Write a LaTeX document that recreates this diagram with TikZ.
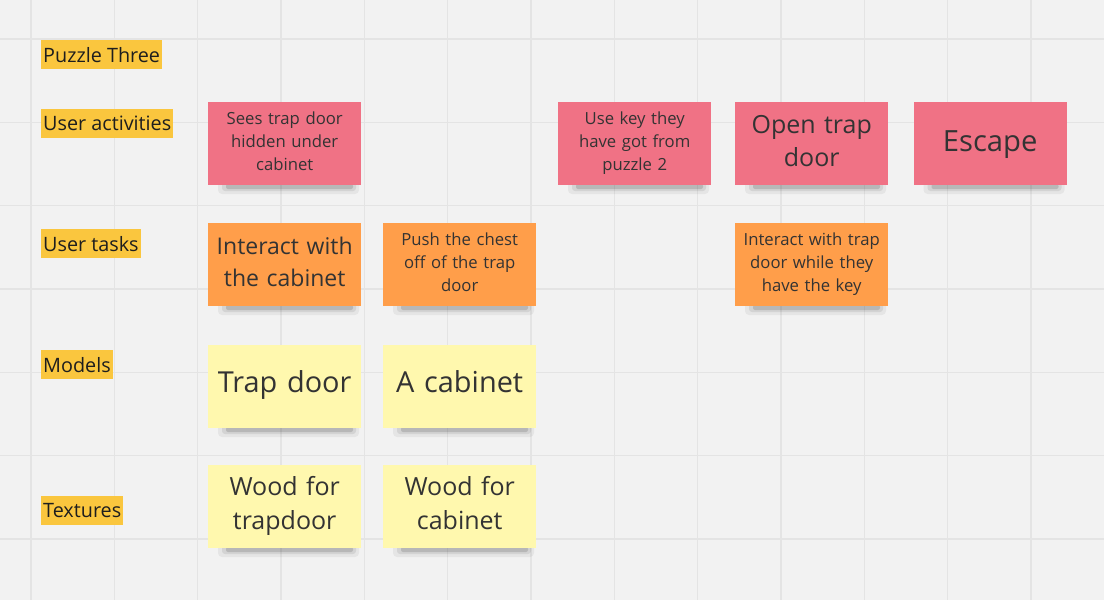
\documentclass[tikz,border=0pt]{standalone}
\usepackage{fontspec}
\setmainfont{Open Sans}
\definecolor{bg}{HTML}{F2F2F2}
\definecolor{gridc}{HTML}{E4E4E4}
\definecolor{lab}{HTML}{FAC63E}
\definecolor{pinkn}{HTML}{F07285}
\definecolor{orangen}{HTML}{FF9E4A}
\definecolor{yellown}{HTML}{FFF8AE}
\definecolor{ink}{HTML}{333333}
\definecolor{labink}{HTML}{1E1E1E}
\tikzset{
  gridline/.style={draw=gridc, line width=1.3pt},
  rowlabel/.style={fill=lab, anchor=north west, inner xsep=2pt, inner ysep=0pt,
    minimum height=29pt, text=labink, font=\fontsize{19.8}{23}\selectfont},
  sticky/.style={anchor=north west, minimum width=153pt, minimum height=83pt,
    inner sep=0pt},
  stickytext/.style={text width=148pt, align=center, inner sep=0pt, text=ink,
    execute at begin node=\strut, execute at end node=\strut},
  small/.style={font=\fontsize{16.7}{23.3}\selectfont},
  shade1/.style={fill=black, opacity=0.05, rounded corners=4pt},
  shade2/.style={fill=black, opacity=0.08, rounded corners=3pt},
  shade3/.style={fill=black, opacity=0.13, rounded corners=2pt}
}
\newcommand\stickyshadow[2]{%
  \fill[shade1] ({#1+10},{#2+78}) rectangle ({#1+151},{#2+92});
  \fill[shade2] ({#1+14},{#2+80}) rectangle ({#1+148},{#2+89});
  \fill[shade3] ({#1+18},{#2+82}) rectangle ({#1+145},{#2+87});
}
% name, x, y, fill, text style, text
\newcommand\stickynote[6]{%
  \stickyshadow{#2}{#3}
  \node[sticky, fill=#4] (#1) at (#2,#3) {};
  \node[stickytext, #5] (#1-t) at ([yshift=0.8pt]#1.center) {#6};
}
\begin{document}
\begin{tikzpicture}[x=1pt,y=-1pt]
\fill[bg] (0,0) rectangle (1104,600);
\useasboundingbox (0,0) rectangle (1104,600);
\foreach \i in {0,...,12} \draw[gridline] ({31+83.333*\i},0) -- ({31+83.333*\i},600);
\foreach \j in {0,...,6} \draw[gridline] (0,{39+83.333*\j}) -- (1104,{39+83.333*\j});

% row labels
\node[rowlabel] (puzzle) at (41,40) {Puzzle Three};
\node[rowlabel] (activities) at (41,108.5) {User activities};
\node[rowlabel] (tasks) at (41,229) {User tasks};
\node[rowlabel] (models) at (41,350) {Models};
\node[rowlabel] (textures) at (41,496) {Textures};

% user activities
\stickynote{a1}{208}{102}{pinkn}{small}{Sees trap door\\hidden under\\cabinet}
\stickynote{a2}{558}{102}{pinkn}{small}{Use key they\\have got from\\puzzle 2}
\stickynote{a3}{735}{102}{pinkn}{font=\fontsize{25}{33}\selectfont}{Open trap\\door}
\stickynote{a4}{913.5}{102}{pinkn}{font=\fontsize{29.2}{35}\selectfont, yshift=-1.5pt}{Escape}

% user tasks
\stickynote{t1}{208}{223}{orangen}{font=\fontsize{23}{32}\selectfont}{Interact with\\the cabinet}
\stickynote{t2}{383}{223}{orangen}{small}{Push the chest\\off of the trap\\door}
\stickynote{t3}{735}{223}{orangen}{small}{Interact with trap\\door while they\\have the key}

% models
\stickynote{m1}{208}{345}{yellown}{font=\fontsize{28.9}{35}\selectfont}{Trap door}
\stickynote{m2}{383}{345}{yellown}{font=\fontsize{28.9}{35}\selectfont}{A cabinet}

% textures
\stickynote{x1}{208}{465}{yellown}{font=\fontsize{25}{34}\selectfont}{Wood for\\trapdoor}
\stickynote{x2}{383}{465}{yellown}{font=\fontsize{25}{34}\selectfont}{Wood for\\cabinet}
\end{tikzpicture}
\end{document}
